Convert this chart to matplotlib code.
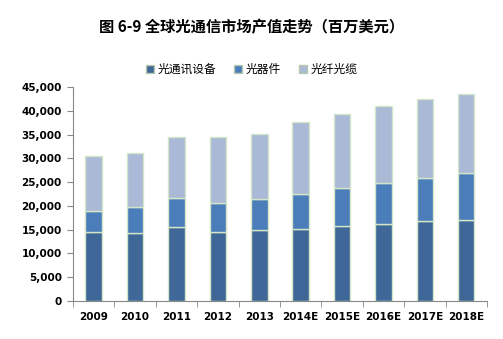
import numpy as np
import matplotlib.pyplot as plt
from matplotlib.ticker import FuncFormatter

plt.rcParams['font.family'] = ['Noto Sans CJK SC', 'DejaVu Sans']

years = ['2009', '2010', '2011', '2012', '2013', '2014E', '2015E', '2016E', '2017E', '2018E']
# cumulative tops
top_equip = [14550, 14300, 15500, 14500, 14800, 15200, 15800, 16200, 16700, 17000]
top_comp = [18800, 19800, 21600, 20500, 21400, 22400, 23700, 24800, 25800, 27000]
top_total = [30500, 31200, 34400, 34500, 35200, 37700, 39400, 41100, 42500, 43500]

equip = np.array(top_equip)
comp = np.array(top_comp) - equip
fiber = np.array(top_total) - np.array(top_comp)

names = ['光通讯设备', '光器件', '光纤光缆']
colors = ['#3F6898', '#4A7DBA', '#A9B9D6']
edge = '#D5E6C8'

fig = plt.figure(figsize=(5.03, 3.39), dpi=100)
ax = fig.add_axes([0.145, 0.113, 0.823, 0.63])

x = np.arange(len(years))
w = 0.4
b1 = ax.bar(x, equip, w, color=colors[0], edgecolor=edge, linewidth=1.0, label=names[0])
b2 = ax.bar(x, comp, w, bottom=equip, color=colors[1], edgecolor=edge, linewidth=1.0, label=names[1])
b3 = ax.bar(x, fiber, w, bottom=equip + comp, color=colors[2], edgecolor=edge, linewidth=1.0, label=names[2])

ax.set_ylim(0, 45000)
ax.set_xlim(-0.5, len(years) - 0.5)
ax.set_yticks(np.arange(0, 45001, 5000))
ax.yaxis.set_major_formatter(FuncFormatter(lambda v, p: '{:,.0f}'.format(v)))
ax.set_xticks(x)
ax.set_xticklabels(years)
ax.set_xticks(np.arange(-0.5, len(years), 1), minor=True)
ax.tick_params(axis='x', which='major', length=0, pad=8)
ax.tick_params(axis='x', which='minor', length=4, color='#888888')
ax.tick_params(axis='y', length=4, color='#888888', pad=4)
for lab in ax.get_xticklabels() + ax.get_yticklabels():
    lab.set_fontsize(7.5)
    lab.set_fontweight('bold')
    lab.set_family('DejaVu Sans')

for s in ['top', 'right']:
    ax.spines[s].set_visible(False)
for s in ['left', 'bottom']:
    ax.spines[s].set_color('#888888')

fig.text(0.5, 0.92, '图 6-9 全球光通信市场产值走势（百万美元）', ha='center', va='center',
         fontsize=11, fontweight='bold')
leg = fig.legend(handles=[b1, b2, b3], labels=names, loc='center', bbox_to_anchor=(0.5, 0.795),
                 ncol=3, frameon=False, fontsize=8.5, handlelength=0.7, handleheight=0.7,
                 handletextpad=0.3, columnspacing=1.5)
for h in leg.legend_handles:
    h.set_edgecolor('#B8C8B0')

fig.savefig('out.png', dpi=100)
